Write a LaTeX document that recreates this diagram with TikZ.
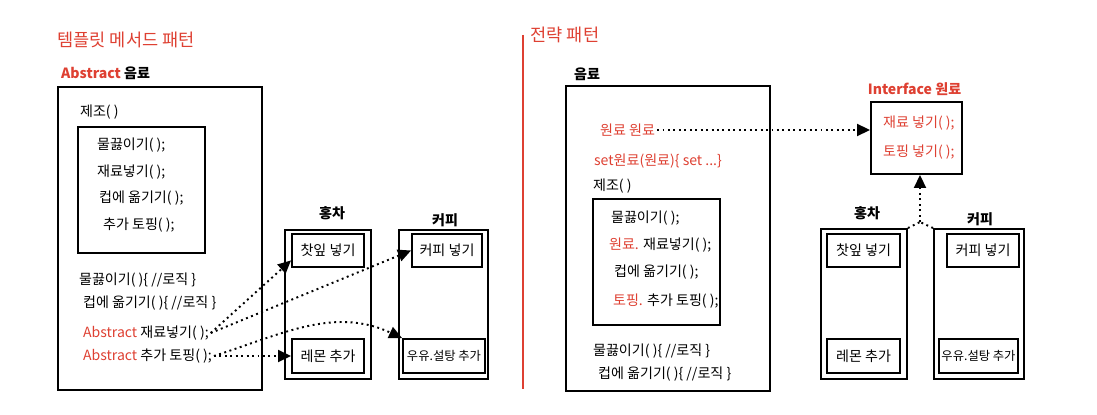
\documentclass[tikz,border=0pt]{standalone}
\usepackage{fontspec}
\setmainfont{Noto Sans CJK KR}
\usetikzlibrary{arrows.meta,positioning,calc}
\definecolor{pen}{RGB}{222,64,50}

\begin{document}
\begin{tikzpicture}[
    frame/.style={draw, line width=1.1pt, inner sep=0pt},
    cell/.style={draw, line width=1.1pt, inner sep=0pt, minimum height=0.66cm, font=\fontsize{8}{10}\selectfont},
    code/.style={anchor=west, inner sep=1pt, font=\fontsize{8}{10}\selectfont},
    title/.style={font=\fontsize{10}{12}\selectfont, text=pen},
    lbl/.style={font=\fontsize{8}{10}\selectfont\bfseries},
    darr/.style={-{Triangle[length=2.6mm, width=2.4mm]}, line width=1.1pt, dotted},
    dline/.style={line width=1.1pt, dotted},
]
\useasboundingbox (0,0) rectangle (21.94,8.28);

% Template method side
\node[title] (tmtitle) at (2.52,7.48) {템플릿 메서드 패턴};
\node[lbl, anchor=west] (absbev) at (1.10,6.82) {\textcolor{pen}{Abstract} 음료};
\node[frame, minimum width=4.08cm, minimum height=6.06cm] (bevL) at (3.20,3.51) {};
\node[code] (makeL) at (1.56,6.04) {제조( )};
\node[frame, minimum width=2.54cm, minimum height=2.52cm] (stepsL) at (2.83,4.48) {};
\node[code] (boilL) at (1.90,5.38) {물끓이기( );};
\node[code] (addL) at (1.90,4.84) {재료넣기( );};
\node[code] (pourL) at (1.94,4.32) {컵에 옮기기( );};
\node[code] (topL) at (2.02,3.78) {추가 토핑( );};
\node[code] (boilimplL) at (1.54,2.68) {물끓이기( )\{ //로직 \}};
\node[code] (pourimplL) at (1.62,2.22) {컵에 옮기기( )\{ //로직 \}};
\node[code] (abs1) at (1.62,1.62) {\textcolor{pen}{Abstract} 재료넣기( );};
\node[code] (abs2) at (1.62,1.16) {\textcolor{pen}{Abstract} 추가 토핑( );};

% Subclasses
\node[lbl] (teaLlbl) at (6.64,4.02) {홍차};
\node[frame, minimum width=1.72cm, minimum height=2.98cm] (teaL) at (6.56,2.19) {};
\node[cell, minimum width=1.44cm] (leafL) at (6.56,3.27) {찻잎 넣기};
\node[cell, minimum width=1.44cm, minimum height=0.68cm] (lemonL) at (6.56,1.16) {레몬 추가};
\node[lbl] (cofLlbl) at (8.90,3.88) {커피};
\node[frame, minimum width=1.78cm, minimum height=2.98cm] (cofL) at (8.87,2.19) {};
\node[cell, minimum width=1.40cm] (beanL) at (8.94,3.27) {커피 넣기};
\node[cell, minimum width=1.64cm, minimum height=0.68cm, font=\fontsize{7}{9}\selectfont] (milkL) at (8.88,1.16) {우유.설탕 추가};

\draw[darr] (abs1.east) -- (leafL.195);
\draw[darr] (abs1.east) -- (beanL.west);
\draw[darr] (abs2.east) -- (lemonL.west);
\draw[darr] (abs2.east) to[out=18, in=155] (milkL.north west);

% Divider
\draw[pen, line width=1pt] (10.46,7.58) -- (10.46,0.50);

% Strategy side
\node[title] (sttitle) at (11.30,7.58) {전략 패턴};
\node[lbl, anchor=west] (bevRlbl) at (11.36,6.80) {음료};
\node[frame, minimum width=4.08cm, minimum height=6.10cm] (bevR) at (13.36,3.51) {};
\node[code, text=pen] (ing) at (11.96,5.68) {원료 원료};
\node[code, text=pen] (setter) at (11.84,5.06) {set원료(원료)\{ set ...\}};
\node[code] (makeR) at (11.82,4.56) {제조( )};
\node[frame, minimum width=2.54cm, minimum height=2.52cm] (stepsR) at (13.13,3.04) {};
\node[code] (boilR) at (12.18,3.92) {물끓이기( );};
\node[code] (addR) at (12.14,3.38) {\textcolor{pen}{원료.} 재료넣기( );};
\node[code] (pourR) at (12.24,2.84) {컵에 옮기기( );};
\node[code] (topR) at (12.22,2.26) {\textcolor{pen}{토핑.} 추가 토핑( );};
\node[code] (boilimplR) at (11.82,1.26) {물끓이기( )\{ //로직 \}};
\node[code] (pourimplR) at (11.92,0.80) {컵에 옮기기( )\{ //로직 \}};

% Interface
\node[lbl, text=pen] (ifacelbl) at (18.29,6.50) {Interface 원료};
\node[frame, minimum width=1.82cm, minimum height=1.44cm] (iface) at (18.33,5.52) {};
\node[code, text=pen] (ifadd) at (17.62,5.82) {재료 넣기( );};
\node[code, text=pen] (iftop) at (17.62,5.24) {토핑 넣기( );};
\draw[darr] (ing.east) -- (ing.east -| iface.west);

% Implementations
\node[lbl] (teaRlbl) at (17.34,4.02) {홍차};
\node[frame, minimum width=1.72cm, minimum height=3.0cm] (teaR) at (17.28,2.20) {};
\node[cell, minimum width=1.46cm] (leafR) at (17.27,3.27) {찻잎 넣기};
\node[cell, minimum width=1.46cm, minimum height=0.68cm] (lemonR) at (17.27,1.16) {레몬 추가};
\node[lbl] (cofRlbl) at (19.60,3.90) {커피};
\node[frame, minimum width=1.80cm, minimum height=3.0cm] (cofR) at (19.58,2.20) {};
\node[cell, minimum width=1.44cm] (beanR) at (19.66,3.27) {커피 넣기};
\node[cell, minimum width=1.58cm, minimum height=0.68cm, font=\fontsize{7}{9}\selectfont] (milkR) at (19.57,1.16) {우유.설탕 추가};

\coordinate (junc) at (18.40,3.84);
\draw[dline] (teaR.north east) -- (junc);
\draw[dline] (cofR.north west) -- (junc);
\draw[darr] (junc) -- (junc |- iface.south);
\end{tikzpicture}
\end{document}
